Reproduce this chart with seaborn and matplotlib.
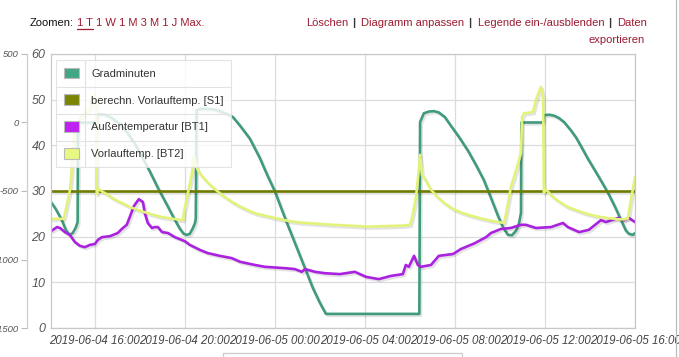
import numpy as np
import pandas as pd
import seaborn as sns
import matplotlib.pyplot as plt
import matplotlib.dates as mdates
import matplotlib.patheffects as pe
from matplotlib.patches import Patch
from matplotlib.lines import Line2D

# Gradminuten (secondary axis, -1500 .. 500)
gm_time = ["2019-06-04 14:03", "2019-06-04 14:16", "2019-06-04 14:32", "2019-06-04 14:43",
           "2019-06-04 14:53", "2019-06-04 15:01", "2019-06-04 15:09", "2019-06-04 15:14",
           "2019-06-04 15:15", "2019-06-04 16:03", "2019-06-04 16:05", "2019-06-04 16:13",
           "2019-06-04 16:27", "2019-06-04 16:45", "2019-06-04 17:07", "2019-06-04 17:28",
           "2019-06-04 17:47", "2019-06-04 18:05", "2019-06-04 18:27", "2019-06-04 18:48",
           "2019-06-04 19:12", "2019-06-04 19:33", "2019-06-04 19:47", "2019-06-04 19:57",
           "2019-06-04 20:05", "2019-06-04 20:13", "2019-06-04 20:21", "2019-06-04 20:27",
           "2019-06-04 20:29", "2019-06-04 20:31", "2019-06-04 20:40", "2019-06-04 20:53",
           "2019-06-04 21:12", "2019-06-04 21:33", "2019-06-04 21:52", "2019-06-04 22:08",
           "2019-06-04 22:27", "2019-06-04 22:53", "2019-06-04 23:20", "2019-06-04 23:39",
           "2019-06-05 00:00", "2019-06-05 00:32", "2019-06-05 01:07", "2019-06-05 01:41",
           "2019-06-05 02:00", "2019-06-05 02:16", "2019-06-05 06:25", "2019-06-05 06:27",
           "2019-06-05 06:37", "2019-06-05 06:51", "2019-06-05 07:04", "2019-06-05 07:17",
           "2019-06-05 07:33", "2019-06-05 07:49", "2019-06-05 08:11", "2019-06-05 08:35",
           "2019-06-05 08:56", "2019-06-05 09:17", "2019-06-05 09:36", "2019-06-05 09:55",
           "2019-06-05 10:08", "2019-06-05 10:21", "2019-06-05 10:32", "2019-06-05 10:43",
           "2019-06-05 10:51", "2019-06-05 10:56", "2019-06-05 10:57", "2019-06-05 11:55",
           "2019-06-05 11:57", "2019-06-05 12:11", "2019-06-05 12:24", "2019-06-05 12:37",
           "2019-06-05 12:51", "2019-06-05 13:09", "2019-06-05 13:23", "2019-06-05 13:36",
           "2019-06-05 13:55", "2019-06-05 14:11", "2019-06-05 14:29", "2019-06-05 14:48",
           "2019-06-05 15:07", "2019-06-05 15:23", "2019-06-05 15:36", "2019-06-05 15:44",
           "2019-06-05 15:55", "2019-06-05 16:00"]
gm_value = [-580, -633, -713, -787, -820, -807, -767, -727,
            0, 0, 53, 60, 57, 33, -10, -80,
            -157, -247, -360, -477, -600, -710, -777, -813,
            -820, -813, -773, -733, -700, 90, 97, 100,
            97, 83, 63, 40, -23, -117, -260, -380,
            -503, -733, -973, -1207, -1317, -1397, -1397, 3,
            67, 80, 83, 73, 40, -23, -107, -207,
            -310, -420, -550, -683, -763, -820, -823, -790,
            -733, -660, 0, 0, 53, 57, 50, 33,
            3, -57, -110, -173, -267, -340, -423, -513,
            -617, -713, -790, -813, -820, -807]

# berechn. Vorlauftemp. [S1]
s1_time = ["2019-06-04 14:03", "2019-06-04 20:00", "2019-06-05 04:00", "2019-06-05 12:00", "2019-06-05 16:00"]
s1_value = [30.0, 30.0, 30.0, 30.0, 30.0]

# Außentemperatur [BT1]
bt1_time = ["2019-06-04 14:03", "2019-06-04 14:19", "2019-06-04 14:27", "2019-06-04 14:40",
            "2019-06-04 14:53", "2019-06-04 15:07", "2019-06-04 15:20", "2019-06-04 15:33",
            "2019-06-04 15:47", "2019-06-04 16:00", "2019-06-04 16:08", "2019-06-04 16:19",
            "2019-06-04 16:40", "2019-06-04 17:01", "2019-06-04 17:12", "2019-06-04 17:25",
            "2019-06-04 17:33", "2019-06-04 17:44", "2019-06-04 17:57", "2019-06-04 18:08",
            "2019-06-04 18:13", "2019-06-04 18:21", "2019-06-04 18:32", "2019-06-04 18:40",
            "2019-06-04 18:48", "2019-06-04 18:59", "2019-06-04 19:15", "2019-06-04 19:33",
            "2019-06-04 20:00", "2019-06-04 20:13", "2019-06-04 20:40", "2019-06-04 21:01",
            "2019-06-04 21:33", "2019-06-04 22:05", "2019-06-04 22:27", "2019-06-04 23:07",
            "2019-06-04 23:33", "2019-06-05 00:27", "2019-06-05 00:53", "2019-06-05 01:12",
            "2019-06-05 01:20", "2019-06-05 01:47", "2019-06-05 02:13", "2019-06-05 02:53",
            "2019-06-05 03:33", "2019-06-05 04:03", "2019-06-05 04:37", "2019-06-05 05:09",
            "2019-06-05 05:41", "2019-06-05 05:49", "2019-06-05 05:57", "2019-06-05 06:11",
            "2019-06-05 06:21", "2019-06-05 06:29", "2019-06-05 06:56", "2019-06-05 07:17",
            "2019-06-05 07:55", "2019-06-05 08:16", "2019-06-05 08:51", "2019-06-05 09:23",
            "2019-06-05 09:36", "2019-06-05 10:03", "2019-06-05 10:29", "2019-06-05 10:56",
            "2019-06-05 11:09", "2019-06-05 11:36", "2019-06-05 12:16", "2019-06-05 12:48",
            "2019-06-05 13:01", "2019-06-05 13:31", "2019-06-05 13:57", "2019-06-05 14:29",
            "2019-06-05 14:43", "2019-06-05 15:15", "2019-06-05 15:31", "2019-06-05 15:44",
            "2019-06-05 16:00"]
bt1_value = [21.2, 22.1, 21.9, 21.0, 20.4, 18.8, 18.0, 17.7,
             18.2, 18.4, 19.3, 19.9, 20.1, 20.8, 21.7, 22.6,
             24.3, 26.7, 28.2, 27.6, 25.2, 23.0, 21.9, 22.1,
             22.1, 21.0, 20.8, 19.9, 19.0, 18.2, 17.1, 16.4,
             15.8, 15.3, 14.5, 13.8, 13.4, 13.1, 12.9, 12.3,
             12.9, 12.3, 12.0, 11.8, 12.3, 11.2, 10.7, 11.4,
             11.8, 13.8, 13.4, 15.8, 13.8, 13.4, 13.8, 15.8,
             16.2, 17.3, 18.5, 19.9, 20.8, 21.7, 21.9, 22.6,
             22.6, 21.9, 22.1, 23.0, 22.1, 21.0, 21.5, 23.6,
             23.2, 24.1, 23.6, 24.1, 23.2]

# Vorlauftemp. [BT2]
bt2_time = ["2019-06-04 14:03", "2019-06-04 14:37", "2019-06-04 14:40", "2019-06-04 14:53",
            "2019-06-04 14:56", "2019-06-04 15:01", "2019-06-04 15:07", "2019-06-04 15:20",
            "2019-06-04 15:47", "2019-06-04 15:57", "2019-06-04 16:03", "2019-06-04 16:05",
            "2019-06-04 16:11", "2019-06-04 16:19", "2019-06-04 16:32", "2019-06-04 16:48",
            "2019-06-04 17:01", "2019-06-04 17:15", "2019-06-04 17:33", "2019-06-04 18:00",
            "2019-06-04 18:27", "2019-06-04 18:53", "2019-06-04 19:20", "2019-06-04 19:47",
            "2019-06-04 19:55", "2019-06-04 19:57", "2019-06-04 20:08", "2019-06-04 20:19",
            "2019-06-04 20:24", "2019-06-04 20:29", "2019-06-04 20:32", "2019-06-04 20:40",
            "2019-06-04 20:59", "2019-06-04 21:20", "2019-06-04 21:41", "2019-06-04 22:08",
            "2019-06-04 22:27", "2019-06-04 22:53", "2019-06-04 23:12", "2019-06-05 00:00",
            "2019-06-05 00:32", "2019-06-05 01:07", "2019-06-05 02:35", "2019-06-05 04:08",
            "2019-06-05 05:36", "2019-06-05 06:00", "2019-06-05 06:05", "2019-06-05 06:11",
            "2019-06-05 06:16", "2019-06-05 06:21", "2019-06-05 06:27", "2019-06-05 06:32",
            "2019-06-05 06:40", "2019-06-05 06:48", "2019-06-05 06:56", "2019-06-05 07:12",
            "2019-06-05 07:31", "2019-06-05 07:52", "2019-06-05 08:16", "2019-06-05 08:43",
            "2019-06-05 09:09", "2019-06-05 09:36", "2019-06-05 10:03", "2019-06-05 10:11",
            "2019-06-05 10:16", "2019-06-05 10:24", "2019-06-05 10:29", "2019-06-05 10:40",
            "2019-06-05 10:51", "2019-06-05 10:56", "2019-06-05 10:59", "2019-06-05 11:04",
            "2019-06-05 11:28", "2019-06-05 11:36", "2019-06-05 11:49", "2019-06-05 11:55",
            "2019-06-05 11:57", "2019-06-05 12:03", "2019-06-05 12:08", "2019-06-05 12:16",
            "2019-06-05 12:29", "2019-06-05 12:43", "2019-06-05 13:01", "2019-06-05 13:23",
            "2019-06-05 13:44", "2019-06-05 14:05", "2019-06-05 14:29", "2019-06-05 14:56",
            "2019-06-05 15:15", "2019-06-05 15:33", "2019-06-05 15:41", "2019-06-05 15:49",
            "2019-06-05 16:00"]
bt2_value = [23.9, 23.9, 25.0, 30.0, 32.4, 38.0, 44.0, 46.0,
             48.0, 51.0, 50.0, 29.3, 30.5, 29.9, 29.3, 28.4,
             27.8, 27.3, 26.5, 25.7, 25.0, 24.4, 24.0, 23.7,
             23.6, 25.2, 29.5, 34.0, 37.8, 36.0, 35.0, 33.8,
             32.0, 30.4, 29.0, 27.5, 26.6, 25.6, 25.0, 24.1,
             23.5, 23.1, 22.6, 22.2, 22.4, 22.6, 24.0, 26.5,
             28.7, 32.5, 37.9, 33.5, 32.6, 31.4, 30.3, 28.8,
             27.4, 26.2, 25.3, 24.6, 24.0, 23.5, 23.1, 23.0,
             25.0, 28.5, 30.9, 33.8, 36.8, 38.3, 46.2, 47.0,
             47.3, 50.0, 52.8, 50.6, 29.6, 30.3, 29.9, 29.1,
             28.2, 27.4, 26.5, 25.8, 25.2, 24.7, 24.3, 24.0,
             23.8, 23.8, 24.0, 28.0, 33.0]

series_names = ["Gradminuten", "berechn. Vorlauftemp. [S1]", "Außentemperatur [BT1]", "Vorlauftemp. [BT2]"]
line_colors = ["#3f9b7c", "#6f7c00", "#aa22e0", "#e3f37a"]
swatch_colors = ["#43a685", "#7b8600", "#bd22f2", "#e8f880"]

zoom_links = "1 W 1 M 3 M 1 J Max."
menu_links = ["Löschen", "Diagramm anpassen", "Legende ein-/ausblenden", "Daten"]


def gm_to_temp(g):
    return (np.asarray(g) + 1500.0) * 60.0 / 2000.0


def temp_to_gm(v):
    return np.asarray(v) * 2000.0 / 60.0 - 1500.0


sns.set_theme(style="white")
plt.rcParams['font.family'] = ['Liberation Sans', 'DejaVu Sans']
plt.rcParams['axes.unicode_minus'] = False

W, H = 679, 357
fig = plt.figure(figsize=(W / 100, H / 100), dpi=100)
fig.patch.set_facecolor("white")
ax = fig.add_axes([51 / W, 1 - 328 / H, (635 - 51) / W, (328 - 54) / H])

shadow = [pe.SimpleLineShadow(offset=(1.2, -1.4), shadow_color="k", alpha=0.12), pe.Normal()]

frames = [
    (pd.to_datetime(gm_time), gm_to_temp(gm_value)),
    (pd.to_datetime(s1_time), np.array(s1_value)),
    (pd.to_datetime(bt1_time), np.array(bt1_value)),
    (pd.to_datetime(bt2_time), np.array(bt2_value)),
]
for (t, v), c in zip(frames, line_colors):
    df = pd.DataFrame({"time": t, "value": v})
    sns.lineplot(data=df, x="time", y="value", ax=ax, color=c, linewidth=1.9,
                 estimator=None, sort=False, path_effects=shadow)

ax.set_xlabel("")
ax.set_ylabel("")
ax.set_xlim(pd.Timestamp("2019-06-04 14:03"), pd.Timestamp("2019-06-05 16:00"))
ax.set_ylim(0, 60)
ax.set_yticks(range(0, 61, 10))
ax.xaxis.set_major_locator(mdates.HourLocator(byhour=[0, 4, 8, 12, 16, 20]))
ax.xaxis.set_major_formatter(mdates.DateFormatter("%Y-%m-%d %H:%M"))
ax.grid(True, color="#dcdcdc", linewidth=0.9)
ax.set_axisbelow(True)
for s in ax.spines.values():
    s.set_color("#c8c8c8")
    s.set_linewidth(0.9)
ax.tick_params(axis="x", length=0, pad=5, labelsize=8.3, labelcolor="#444")
ax.tick_params(axis="y", length=0, pad=4, labelsize=9, labelcolor="#555")
for lbl in ax.get_xticklabels() + ax.get_yticklabels():
    lbl.set_style("italic")

# secondary scale for Gradminuten
sec = ax.secondary_yaxis((27 - 51) / (635 - 51), functions=(temp_to_gm, gm_to_temp))
sec.set_yticks([-1500, -1000, -500, 0, 500])
sec.tick_params(axis="y", length=4, width=0.8, color="#bbbbbb", pad=2, labelsize=6.8, labelcolor="#555")
sec.spines["left"].set_color("#cccccc")
sec.spines["left"].set_linewidth(0.9)
for lbl in sec.get_yticklabels():
    lbl.set_style("italic")

handles = [Patch(facecolor=c, edgecolor="#bbbbbb", linewidth=0.8) for c in swatch_colors]
leg = ax.legend(handles, series_names, loc="upper left",
                bbox_to_anchor=((56 - 51) / 584, 1 - (60 - 54) / 274), borderaxespad=0,
                frameon=True, fancybox=False, framealpha=0.82, edgecolor="#dddddd",
                fontsize=8, handlelength=1.35, handleheight=1.1, handletextpad=1.15,
                labelspacing=1.42, borderpad=0.68, labelcolor="#333333")
leg.get_frame().set_linewidth(0.8)

fig.canvas.draw()
r = fig.canvas.get_renderer()

# row / column separators inside the legend box
fb = leg.get_frame().get_window_extent(r)
tb = [t.get_window_extent(r) for t in leg.get_texts()]
for a, b in zip(tb[:-1], tb[1:]):
    ym = ((a.y0 + a.y1) / 2 + (b.y0 + b.y1) / 2) / 2
    fig.add_artist(Line2D([fb.x0, fb.x1], [ym, ym], transform=None, color="#e2e2e2", lw=0.8))
xs = tb[0].x0 - 6
fig.add_artist(Line2D([xs, xs], [fb.y0, fb.y1], transform=None, color="#e2e2e2", lw=0.8))


def put(x, y, s, color, **kw):
    t = fig.text(x / W, 1 - y / H, s, color=color, fontsize=8, va="center", ha="left", **kw)
    return t, t.get_window_extent(r)


link_red = "#9c1b31"
# zoom bar
t, bb = put(30, 23, "Zoomen:", "#111111")
t, bb = put(bb.x1 + 3, 23, "1 T", link_red)
fig.add_artist(Line2D([bb.x0, bb.x1], [bb.y0 - 1, bb.y0 - 1], transform=None, color=link_red, lw=0.9))
put(bb.x1 + 3, 23, zoom_links, link_red)

# menu links
x = 306
for i, name in enumerate(menu_links):
    t, bb = put(x, 23, name, link_red)
    x = bb.x1 + 4
    if i < len(menu_links) - 1:
        t, bb = put(x, 23, "|", "#333333", fontweight="bold")
        x = bb.x1 + 6
fig.text(645 / W, 1 - 40 / H, "exportieren", color=link_red, fontsize=8, va="center", ha="right")

# page decorations
fig.add_artist(Line2D([676 / W, 676 / W], [0, 1], color="#bbbbbb", lw=0.9))
fig.add_artist(Line2D([223 / W, 462 / W], [1 - 353 / H, 1 - 353 / H], color="#cccccc", lw=0.9))
fig.add_artist(Line2D([223 / W, 223 / W], [0, 1 - 353 / H], color="#cccccc", lw=0.9))
fig.add_artist(Line2D([462 / W, 462 / W], [0, 1 - 353 / H], color="#cccccc", lw=0.9))

fig.savefig("out.png", dpi=100)
